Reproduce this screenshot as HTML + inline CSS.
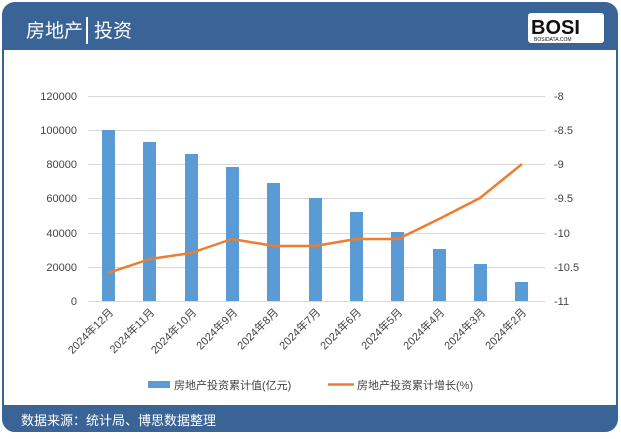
<!DOCTYPE html>
<html><head><meta charset="utf-8"><style>
body{margin:0;background:#fff;font-family:"Liberation Sans","Noto Sans CJK SC",sans-serif}
</style></head><body>
<svg width="621" height="434" xmlns="http://www.w3.org/2000/svg" font-family="Liberation Sans, Noto Sans CJK SC, sans-serif">
<rect x="0" y="0" width="621" height="434" fill="#fff"/>
<rect x="3" y="3" width="614" height="428" rx="12" fill="#fff" stroke="#3a6496" stroke-width="2"/>
<path d="M3 50 V15 Q3 3 15 3 H605 Q617 3 617 15 V50 Z" fill="#3a6496"/>
<text x="26" y="37" font-size="19" fill="#fff">房地产</text>
<rect x="86" y="17" width="2" height="27" fill="#fff"/>
<text x="94" y="37" font-size="19" fill="#fff">投资</text>
<rect x="528" y="13" width="76" height="30" rx="3" fill="#fff"/>
<text x="531" y="34" font-size="20" font-weight="bold" fill="#111">BOSI</text>
<text x="534" y="41" font-size="5" fill="#111">BOSIDATA.COM</text>
<path d="M3 405 H617 V419 Q617 431 605 431 H15 Q3 431 3 419 Z" fill="#3a6496"/>
<text x="21" y="425" font-size="13" fill="#fff">数据来源：统计局、博思数据整理</text>
<g stroke="#d9d9d9" stroke-width="1">
<line x1="88" y1="96.5" x2="545" y2="96.5"/>
<line x1="88" y1="130.5" x2="545" y2="130.5"/>
<line x1="88" y1="164.5" x2="545" y2="164.5"/>
<line x1="88" y1="198.5" x2="545" y2="198.5"/>
<line x1="88" y1="233.5" x2="545" y2="233.5"/>
<line x1="88" y1="267.5" x2="545" y2="267.5"/>
<line x1="88" y1="301.5" x2="545" y2="301.5"/>
</g>
<g font-size="11" fill="#444" text-anchor="end">
<text x="77" y="100">120000</text><text x="77" y="134">100000</text><text x="77" y="168">80000</text><text x="77" y="202">60000</text><text x="77" y="237">40000</text><text x="77" y="271">20000</text><text x="77" y="305">0</text>
</g>
<g font-size="11" fill="#444">
<text x="554" y="100">-8</text><text x="554" y="134">-8.5</text><text x="554" y="168">-9</text><text x="554" y="202">-9.5</text><text x="554" y="237">-10</text><text x="554" y="271">-10.5</text><text x="554" y="305">-11</text>
</g>
<g fill="#5b9bd5">
<rect x="102" y="130" width="13" height="171"/>
<rect x="143" y="142" width="13" height="159"/>
<rect x="185" y="154" width="13" height="147"/>
<rect x="226" y="167" width="13" height="134"/>
<rect x="267" y="183" width="13" height="118"/>
<rect x="309" y="198" width="13" height="103"/>
<rect x="350" y="212" width="13" height="89"/>
<rect x="391" y="232" width="13" height="69"/>
<rect x="433" y="249" width="13" height="52"/>
<rect x="474" y="264" width="13" height="37"/>
<rect x="515" y="282" width="13" height="19"/>
</g>
<polyline fill="none" stroke="#ed7d31" stroke-width="2.5" stroke-linejoin="round" points="108,273 150,259 191,253 232,239 274,246 315,246 356,239 398,239 439,219 480,198 522,164"/>
<g font-size="11" fill="#444" text-anchor="end">
<text transform="translate(114,313) rotate(-45)">2024年12月</text>
<text transform="translate(155,313) rotate(-45)">2024年11月</text>
<text transform="translate(197,313) rotate(-45)">2024年10月</text>
<text transform="translate(238,313) rotate(-45)">2024年9月</text>
<text transform="translate(279,313) rotate(-45)">2024年8月</text>
<text transform="translate(321,313) rotate(-45)">2024年7月</text>
<text transform="translate(362,313) rotate(-45)">2024年6月</text>
<text transform="translate(403,313) rotate(-45)">2024年5月</text>
<text transform="translate(445,313) rotate(-45)">2024年4月</text>
<text transform="translate(486,313) rotate(-45)">2024年3月</text>
<text transform="translate(527,313) rotate(-45)">2024年2月</text>
</g>
<rect x="148" y="381" width="22" height="7" fill="#5b9bd5"/>
<text x="174" y="389" font-size="11" fill="#444">房地产投资累计值(亿元)</text>
<line x1="328" y1="384.5" x2="354" y2="384.5" stroke="#ed7d31" stroke-width="2.5"/>
<text x="357" y="389" font-size="11" fill="#444">房地产投资累计增长(%)</text>
</svg>
</body></html>
